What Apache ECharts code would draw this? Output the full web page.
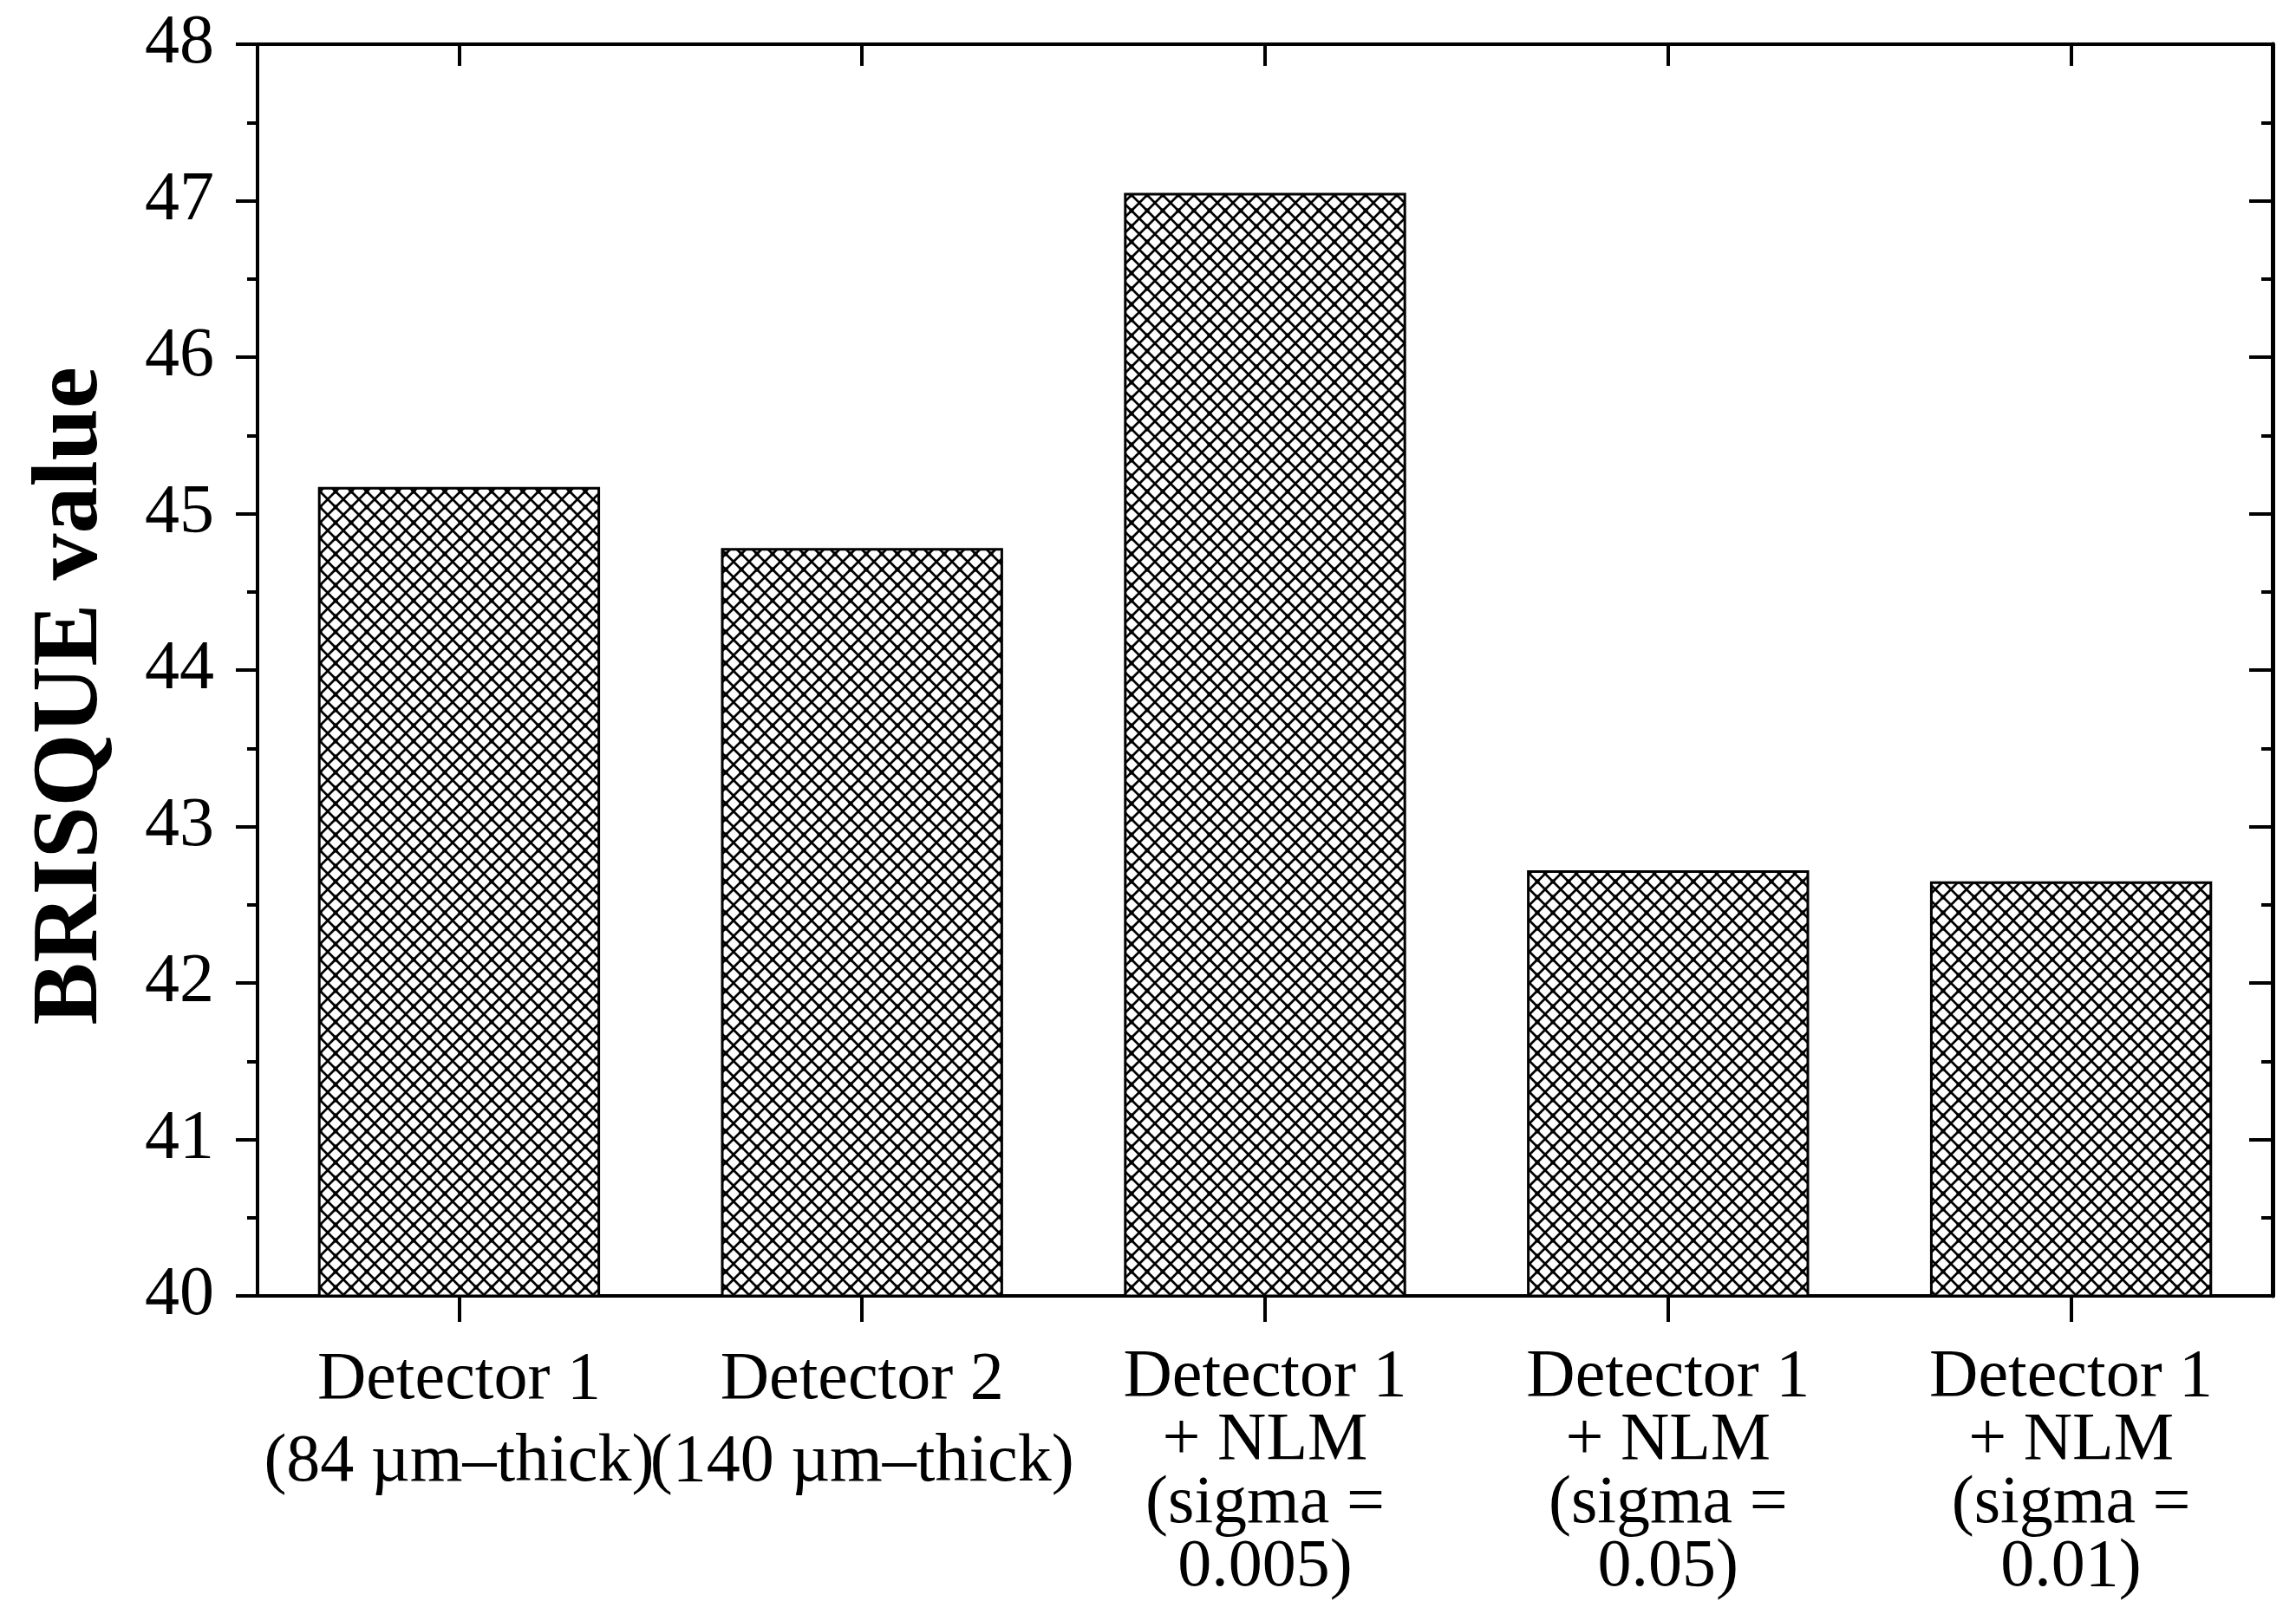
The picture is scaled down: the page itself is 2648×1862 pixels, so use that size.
<!DOCTYPE html>
<html>
<head>
<meta charset="utf-8">
<script src="https://cdn.jsdelivr.net/npm/echarts@6/dist/echarts.min.js"></script>
<style>
html,body{margin:0;padding:0;background:#fff;}
#c{width:2648px;height:1862px;}
</style>
</head>
<body>
<div id="c"></div>
<script>
const categories = [
  "Detector 1\n(84 µm–thick)",
  "Detector 2\n(140 µm–thick)",
  "Detector 1\n+ NLM\n(sigma =\n0.005)",
  "Detector 1\n+ NLM\n(sigma =\n0.05)",
  "Detector 1\n+ NLM\n(sigma =\n0.01)"
];
const brisqueValues = [45.17, 44.78, 47.05, 42.72, 42.65];
const yTicks = [40, 41, 42, 43, 44, 45, 46, 47, 48];

// cross-hatch pattern
const pc = document.createElement('canvas');
const P = 18;
pc.width = P; pc.height = P;
const g = pc.getContext('2d');
g.fillStyle = '#fff';
g.fillRect(0, 0, P, P);
g.strokeStyle = '#000';
g.lineWidth = 2.7;
g.beginPath();
g.moveTo(-2, -2); g.lineTo(P + 2, P + 2);
g.moveTo(P + 2, -2); g.lineTo(-2, P + 2);
g.stroke();
g.fillStyle = '#000';
g.fillRect(P/2 - 2.5, P/2 - 2.5, 5, 5);

const font = '"Liberation Serif", "Times New Roman", serif';
const chart = echarts.init(document.getElementById('c'));
const yMin = yTicks[0], yMax = yTicks[yTicks.length - 1];

// two-line labels use wider line spacing in the reference
const catData = categories.map(function (c) {
  const lines = c.split('\n').length;
  return lines === 2
    ? { value: c, textStyle: { lineHeight: 95, padding: [-8, 0, 0, 0] } }
    : { value: c };
});

chart.setOption({
  animation: false,
  backgroundColor: '#fff',
  grid: { left: 297, right: 27, top: 51, bottom: 367, containLabel: false },
  xAxis: [
    {
      type: 'category', data: catData, position: 'bottom',
      axisLine: { show: true, lineStyle: { color: '#000', width: 4 } },
      axisTick: { show: true, alignWithLabel: true, inside: false, length: 30, lineStyle: { color: '#000', width: 4 } },
      axisLabel: { interval: 0, margin: 58, color: '#000', fontFamily: font, fontSize: 78, lineHeight: 73, align: 'center' },
      splitLine: { show: false }
    },
    {
      type: 'category', data: categories, position: 'top',
      axisLine: { show: true, lineStyle: { color: '#000', width: 4 } },
      axisTick: { show: true, alignWithLabel: true, inside: true, length: 25, lineStyle: { color: '#000', width: 4 } },
      axisLabel: { show: false },
      splitLine: { show: false }
    }
  ],
  yAxis: [
    {
      type: 'value', min: yMin, max: yMax, interval: 1, position: 'left',
      name: 'BRISQUE value', nameLocation: 'middle', nameGap: 160, nameRotate: 90,
      nameTextStyle: { color: '#000', fontFamily: font, fontWeight: 'bold', fontSize: 108, padding: [0, 60, 0, 0] },
      axisLine: { show: true, lineStyle: { color: '#000', width: 4 } },
      axisTick: { show: true, inside: false, length: 25, lineStyle: { color: '#000', width: 4 } },
      minorTick: { show: true, splitNumber: 2, length: 12, lineStyle: { color: '#000', width: 4 } },
      axisLabel: { margin: 50, color: '#000', fontFamily: font, fontSize: 80 },
      splitLine: { show: false }
    },
    {
      type: 'value', min: yMin, max: yMax, interval: 1, position: 'right',
      axisLine: { show: true, lineStyle: { color: '#000', width: 5 } },
      axisTick: { show: true, inside: true, length: 27, lineStyle: { color: '#000', width: 4 } },
      minorTick: { show: true, splitNumber: 2, length: 13, lineStyle: { color: '#000', width: 4 } },
      axisLabel: { show: false },
      splitLine: { show: false }
    }
  ],
  series: [{
    type: 'bar',
    xAxisIndex: 0, yAxisIndex: 0,
    data: brisqueValues,
    barCategoryGap: '30%',
    itemStyle: {
      color: { image: pc, repeat: 'repeat' },
      borderColor: '#000',
      borderWidth: 3
    },
    z: 1
  }]
});
</script>
</body>
</html>
